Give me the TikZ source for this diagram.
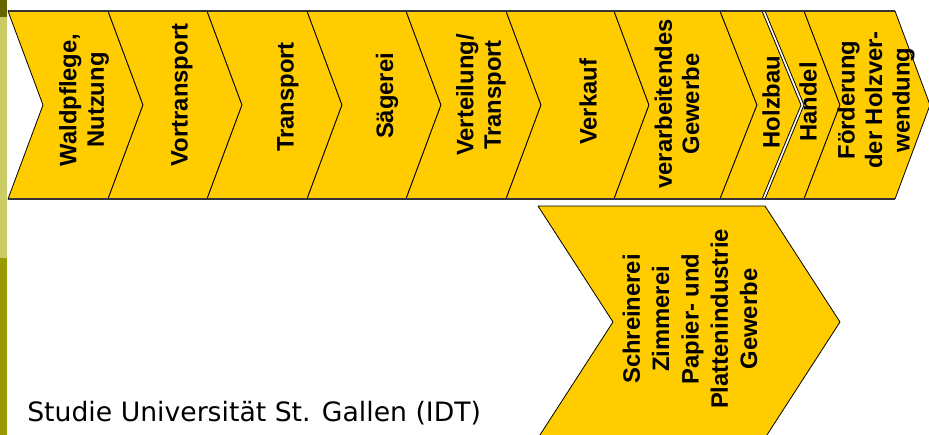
\documentclass[tikz,border=0pt]{standalone}
\usepackage{fontspec}
\usepackage{tkz-euclide}
\newfontfamily\chevfont{Liberation Sans}
\newfontfamily\notefont{DejaVu Sans}
\definecolor{chevyellow}{HTML}{FFCC00}
\definecolor{olivedark}{HTML}{666600}
\definecolor{olivelight}{HTML}{CCCC66}
\definecolor{olivemid}{HTML}{999900}

\begin{document}
\begin{tikzpicture}[x=0.75pt,y=-0.75pt,
    chevron/.style={fill=chevyellow,draw=black,line width=0.6pt},
    rail/.style={draw=black!80,line width=1.5pt},
    stage/.style={font=\chevfont\bfseries\fontsize{17.85}{20.6}\selectfont,
      align=center,inner sep=0pt,rotate=90},
    note/.style={font=\notefont\fontsize{20}{24}\selectfont,inner sep=0pt,anchor=base west}]
         \useasboundingbox (0,0) rectangle (929,435);
         \fill[olivedark] (0,0) rectangle (7,17);
         \fill[olivelight] (0,17) rectangle (7,258);
         \fill[olivemid] (0,258) rectangle (7,435);
         \tkzDefPoints{8/11/t0, 108/11/t1, 207/11/t2, 307/11/t3, 406/11/t4, 506/11/t5,
           614/11/t6, 720/11/t7, 762/11/t8, 804/11/t9, 895/11/t10, 765/11/h0}
         \tkzDefPoints{43/105/m0, 143/105/m1, 242/105/m2, 342/105/m3, 441/105/m4, 541/105/m5,
           649/105/m6, 757/105/m7, 801/105/m8, 840/105/m9, 930/105/m10, 804/105/h1}
         \tkzDefPoints{8/199/b0, 108/199/b1, 207/199/b2, 307/199/b3, 406/199/b4, 506/199/b5,
           614/199/b6, 720/199/b7, 762/199/b8, 804/199/b9, 895/199/b10, 765/199/h2}
         \tkzDefPoints{538/206/S0, 765/206/S1, 840/322/S2, 765/438/S3, 538/438/S4, 613/322/S5}
         \tkzDrawPolygon[chevron](t0,t1,m1,b1,b0,m0)
         \tkzDrawPolygon[chevron](t1,t2,m2,b2,b1,m1)
         \tkzDrawPolygon[chevron](t2,t3,m3,b3,b2,m2)
         \tkzDrawPolygon[chevron](t3,t4,m4,b4,b3,m3)
         \tkzDrawPolygon[chevron](t4,t5,m5,b5,b4,m4)
         \tkzDrawPolygon[chevron](t5,t6,m6,b6,b5,m5)
         \tkzDrawPolygon[chevron](t6,t7,m7,b7,b6,m6)
         \tkzDrawPolygon[chevron](t7,t8,m8,b8,b7,m7)
         \tkzDrawPolygon[chevron](h0,t9,m9,b9,h2,h1)
         \tkzDrawPolygon[chevron](t9,t10,m10,b10,b9,m9)
         \tkzDrawPolygon[chevron](S0,S1,S2,S3,S4,S5)
         \draw[rail] (t0) -- (t10) (b0) -- (b10);
         \node[stage] (wald) at (84,100) {Waldpflege,\\Nutzung};
         \node[stage] (vortransport) at (182,95) {Vortransport};
         \node[stage] (transport) at (288,97) {Transport};
         \node[stage] (saegerei) at (387,96) {Sägerei};
         \node[stage] (verteilung) at (481,95) {Verteilung/\\Transport};
         \node[stage] (verkauf) at (588,102) {Verkauf};
         \node[stage] (gewerbe) at (677,104) {verarbeitendes\\Gewerbe};
         \node[stage] (holzbau) at (771,102) {Holzbau};
         \node[stage] (handel) at (808,102) {Handel};
         \node[stage] (foerderung) at (876,100) {Förderung\\der Holzver-\\wendung};
         \node[stage,font=\chevfont\bfseries\fontsize{17.85}{22}\selectfont] (schreinerei) at (690,319)
           {Schreinerei\\Zimmerei\\Papier- und\\Plattenindustrie\\Gewerbe};
         \node[note] (quelle) at (27,421) {Studie Universität St. Gallen (IDT)};
       \end{tikzpicture}
\end{document}
